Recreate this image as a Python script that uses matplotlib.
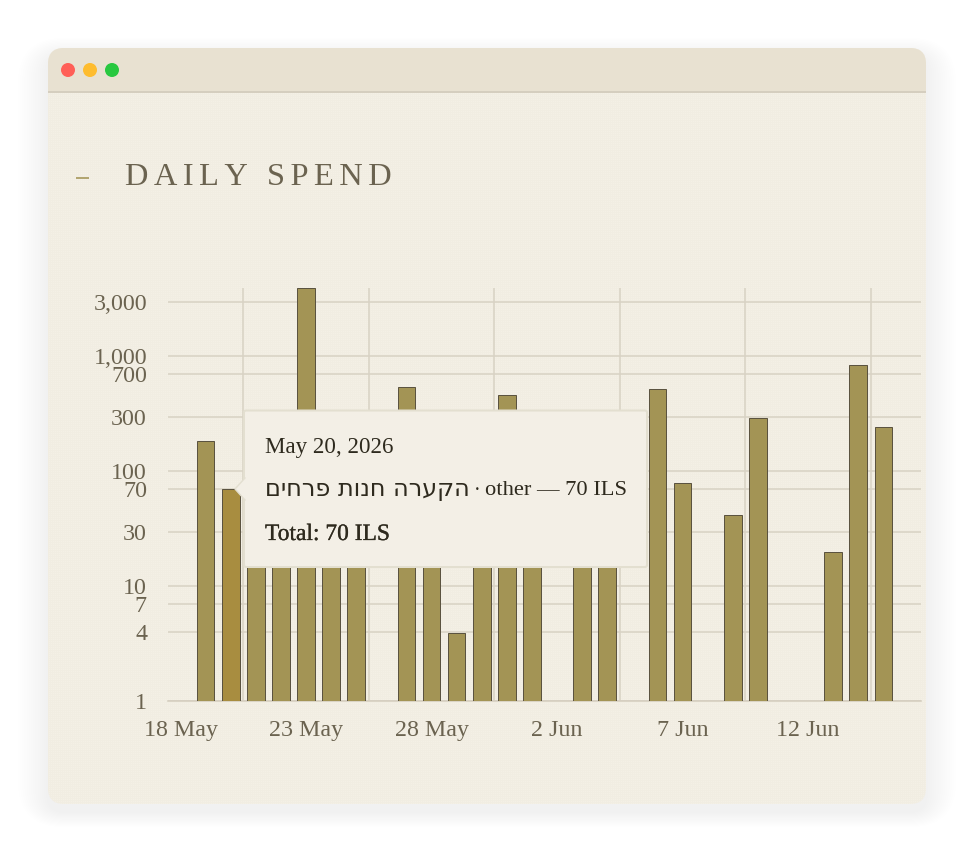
import numpy as np
import matplotlib
matplotlib.use("Agg")
import matplotlib.pyplot as plt
import matplotlib.patheffects as pe
from matplotlib.patches import FancyBboxPatch, Polygon, Circle, Rectangle

W, H = 974, 852
# ---- data ----
dates = ["18 May","19 May","20 May","21 May","22 May","23 May","24 May","25 May","26 May","27 May",
         "28 May","29 May","30 May","31 May","1 Jun","2 Jun","3 Jun","4 Jun","5 Jun","6 Jun",
         "7 Jun","8 Jun","9 Jun","10 Jun","11 Jun","12 Jun","13 Jun","14 Jun","15 Jun","16 Jun"]
spend = [0, 182, 70, 110, 45, 3900, 160, 55, 0, 540,
         35, 3.9, 30, 460, 90, 0, 25, 60, 0, 520,
         79, 0, 41.5, 290, 0, 0, 20, 840, 245, 0]
hover_index = 2
y_ticks = [1, 4, 7, 10, 30, 70, 100, 300, 700, 1000, 3000]
x_tick_step = 5
title = "DAILY SPEND"
tip_date = "May 20, 2026"
tip_merchant = "הקערה חנות פרחים"
tip_detail = "other — 70 ILS"
tip_total = "Total: 70 ILS"

# ---- colours ----
INK = "#6b6350"; BAR = "#a39455"; BAR_H = "#a88d40"; EDGE = "#5b5340"
GRID = "#d9d3c5"; BODY = "#f4f0e6"; HEAD = "#e8e1d1"; HEADL = "#d5cebf"; TIP = "#2e2a1e"
TIPBG = "#f3efe6"; TIPLN = "#e3dfd0"
SERIF = "Liberation Serif"
px = 72 / 100

fig = plt.figure(figsize=(W / 100, H / 100), dpi=100, facecolor="white")

def overlay(z):
    a = fig.add_axes([0, 0, 1, 1], zorder=z)
    a.set_xlim(0, W); a.set_ylim(H, 0); a.axis("off"); a.patch.set_alpha(0)
    return a

bg = overlay(0)
# soft shadow
for i in range(14):
    g = 30 - i * 2.2
    bg.add_patch(FancyBboxPatch((48 - g, 48 - g * 0.6 + 8), 878 + 2 * g, 756 + g * 1.1,
                                boxstyle=f"round,pad=0,rounding_size={16 + g}",
                                fc="#909090", ec="none", alpha=0.0075))
win = FancyBboxPatch((48, 48), 878, 756, boxstyle="round,pad=0,rounding_size=16", fc=BODY, ec="none")
bg.add_patch(win)
# paper texture
pat = np.zeros((4, 4, 4))
pat[..., :3] = matplotlib.colors.to_rgb("#e9e3d4")
pat[0::2, :, 3] = 0.2
pat[:, 0::2, 3] = 0.2
tex = np.tile(pat, (H // 4 + 1, W // 4 + 1, 1))[:H, :W]
im = bg.imshow(tex, extent=(0, W, H, 0), interpolation="nearest", aspect="auto", zorder=1)
im.set_clip_path(win)
bg.set_xlim(0, W); bg.set_ylim(H, 0)
head = Rectangle((48, 48), 878, 44, fc=HEAD, ec="none", zorder=2)
bg.add_patch(head); head.set_clip_path(win)
bg.plot([48, 926], [92, 92], color=HEADL, lw=2 * px, zorder=3, solid_capstyle="butt")
for cx, c in zip([68, 90, 112], ["#ff5f57", "#febc2e", "#28c840"]):
    bg.add_patch(Circle((cx, 70), 7, fc=c, ec="none", zorder=3))
bg.plot([76, 89], [177.5, 177.5], color=BAR, lw=1.6 * px, zorder=3, solid_capstyle="butt")
bg.text(125, 185, "\u200a\u200a".join(title), family=SERIF, fontsize=32.5 * px, color=INK,
        va="baseline", ha="left", zorder=3)

# ---- chart ----
L, R, T, B = 168, 921, 288.4, 701.4
ax = fig.add_axes([L / W, 1 - B / H, (R - L) / W, (B - T) / H], zorder=1)
ax.patch.set_alpha(0)
ax.set_yscale("log")
x = np.arange(len(dates))
vals = np.array(spend, dtype=float)
mask = vals > 0
colors = [BAR_H if i == hover_index else BAR for i in x[mask]]
ax.bar(x[mask], vals[mask] - 1, bottom=1, width=0.7, color=colors, edgecolor=EDGE, linewidth=1 * px, zorder=3)
ax.set_xlim(-0.5, len(dates) - 0.5)
ax.set_ylim(1, 3900)
ax.set_yticks(y_ticks)
ax.set_yticklabels([f"{v:,}" for v in y_ticks], family=SERIF, fontsize=24 * px, color=INK)
ax.minorticks_off()
xt = x[::x_tick_step]
ax.set_xticks(xt)
ax.set_xticklabels([dates[i] for i in xt], family=SERIF, fontsize=24 * px, color=INK)
ax.set_xticks(xt + 2.5, minor=True)
ax.tick_params(axis="both", which="both", length=0)
ax.tick_params(axis="y", pad=21 * px)
ax.tick_params(axis="x", pad=19 * px)
ax.grid(True, axis="y", which="major", color=GRID, lw=1.6 * px, zorder=1)
ax.grid(True, axis="x", which="minor", color=GRID, lw=1.6 * px, zorder=1)
ax.grid(False, axis="x", which="major")
for s in ["top", "right", "left"]:
    ax.spines[s].set_visible(False)
ax.spines["bottom"].set_color("#d5cebf"); ax.spines["bottom"].set_linewidth(1.6 * px)

# ---- tooltip ----
fg = overlay(2)
fg.add_patch(FancyBboxPatch((244, 410.5), 403, 156.5, boxstyle="round,pad=0,rounding_size=2",
                            fc=TIPBG, ec=TIPLN, lw=2 * px, zorder=1))
fg.add_patch(Polygon([(235, 489), (245, 478), (245, 500)], closed=True, fc=TIPBG, ec="none", zorder=2))
fg.plot([245, 235, 245], [478, 489, 500], color=TIPLN, lw=1.4 * px, zorder=2)
medium = [pe.withStroke(linewidth=0.2, foreground=TIP)]
fg.text(265, 453, tip_date, family=SERIF, fontsize=23 * px, color=TIP, va="baseline", zorder=3)
fg.text(265, 496, tip_merchant[::-1], family="DejaVu Sans", fontsize=24 * px, color=TIP, va="baseline", zorder=3)
fg.text(474, 496, "·", family=SERIF, fontsize=20 * px, color=TIP, va="baseline", zorder=3)
fg.text(485, 495, tip_detail, family=SERIF, fontsize=22.5 * px, color=TIP, va="baseline", zorder=3)
fg.text(265, 540, tip_total, family=SERIF, fontsize=23.5 * px, color=TIP, va="baseline", zorder=3,
        path_effects=medium)

fig.savefig("out.png", dpi=100, facecolor="white")
